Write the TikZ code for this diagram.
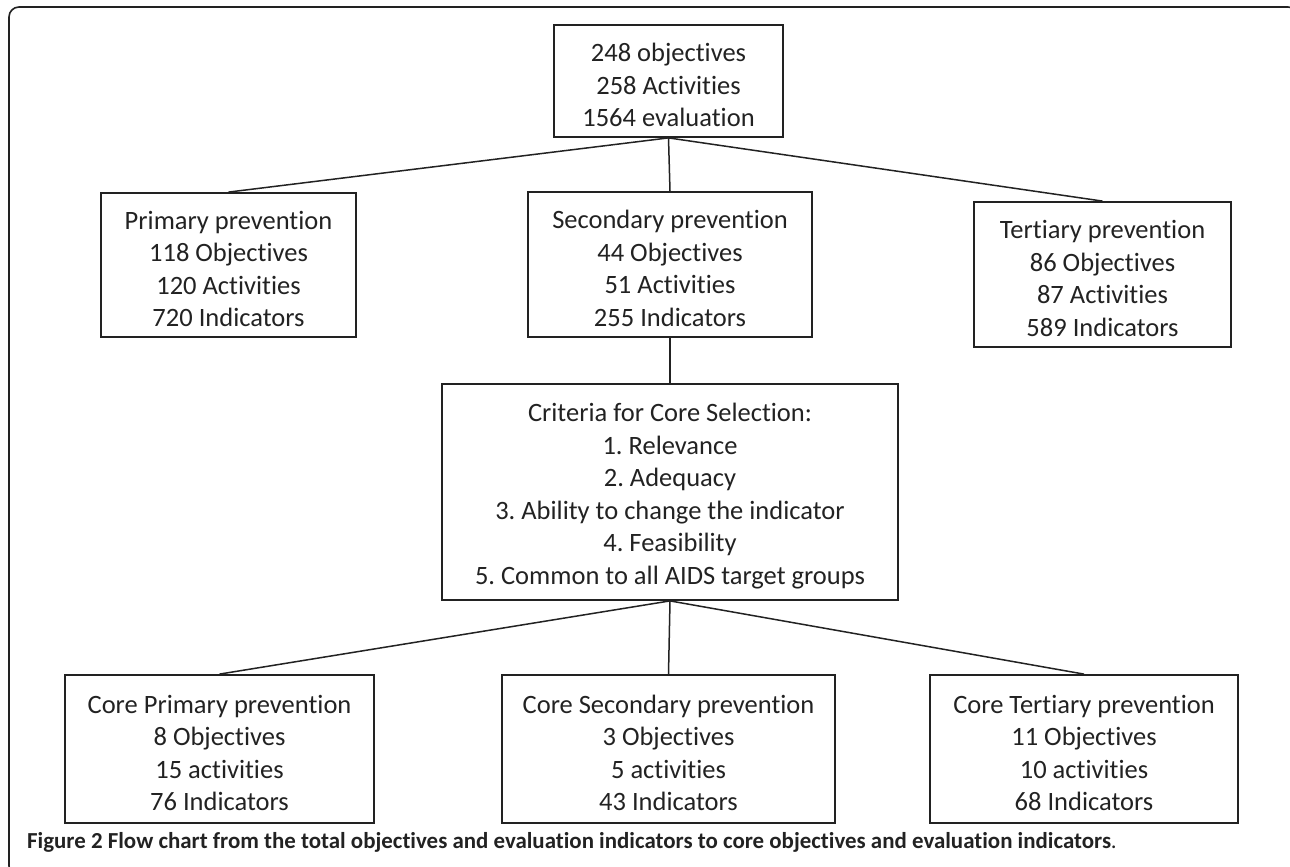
\documentclass[tikz,border=0pt]{standalone}
\usepackage{fontspec}
\setmainfont{Carlito}[Ligatures=NoCommon]
\definecolor{ink}{HTML}{222222}
\begin{document}
\frenchspacing
\begin{tikzpicture}[x=1pt,y=-1pt,
  box/.style={draw=ink,line width=1.8pt,inner sep=0pt},
  txt/.style={text=ink,align=center,inner sep=0pt,yshift=-4pt,
    font=\fontsize{26.5}{32.5}\selectfont},
  link/.style={draw=ink,line width=1.5pt}]
\useasboundingbox (0,0) rectangle (1290,867);
\begin{scope}
\clip (0,0) rectangle (1290,867);
\draw[ink,line width=1.6pt,rounded corners=10pt] (9,7) rectangle (1298,876);
\end{scope}
\node[box,minimum width=229pt,minimum height=112pt] (top) at (668.5,81) {};
\node[txt] (toptext) at (top.center) {248 objectives\\258 Activities\\1564 evaluation};
\node[box,minimum width=255pt,minimum height=144pt] (prim) at (228.5,265) {};
\node[txt] (primtext) at (prim.center) {Primary prevention\\118 Objectives\\120 Activities\\720 Indicators};
\node[box,minimum width=284pt,minimum height=145pt] (sec) at (670,264.5) {};
\node[txt] (sectext) at (sec.center) {Secondary prevention\\44 Objectives\\51 Activities\\255 Indicators};
\node[box,minimum width=257pt,minimum height=145pt] (ter) at (1102.5,274.5) {};
\node[txt] (tertext) at (ter.center) {Tertiary prevention\\86 Objectives\\87 Activities\\589 Indicators};
\node[box,minimum width=456pt,minimum height=216pt] (crit) at (670,492) {};
\node[txt] (crittext) at (crit.center) {Criteria for Core Selection:\\1. Relevance\\2. Adequacy\\3. Ability to change the indicator\\4. Feasibility\\5. Common to all AIDS target groups};
\node[box,minimum width=309pt,minimum height=148pt] (cprim) at (219.5,749) {};
\node[txt] (cprimtext) at (cprim.center) {Core Primary prevention\\8 Objectives\\15 activities\\76 Indicators};
\node[box,minimum width=333pt,minimum height=148pt] (csec) at (668.5,749) {};
\node[txt] (csectext) at (csec.center) {Core Secondary prevention\\3 Objectives\\5 activities\\43 Indicators};
\node[box,minimum width=308pt,minimum height=148pt] (cter) at (1084,749) {};
\node[txt] (ctertext) at (cter.center) {Core Tertiary prevention\\11 Objectives\\10 activities\\68 Indicators};
\draw[link] (top.south) -- (prim.north);
\draw[link] (top.south) -- (sec.north);
\draw[link] (top.south) -- (ter.north);
\draw[link] (sec.south) -- (crit.north);
\draw[link] (crit.south) -- (cprim.north);
\draw[link] (crit.south) -- (csec.north);
\draw[link] (crit.south) -- (cter.north);
\node[anchor=base west,inner sep=0pt,text=ink,font=\fontsize{22.9}{27}\selectfont] (cap) at (27,848)
  {\textbf{Figure 2 Flow chart from the total objectives and evaluation indicators to core objectives and evaluation indicators}.};
\end{tikzpicture}
\end{document}
